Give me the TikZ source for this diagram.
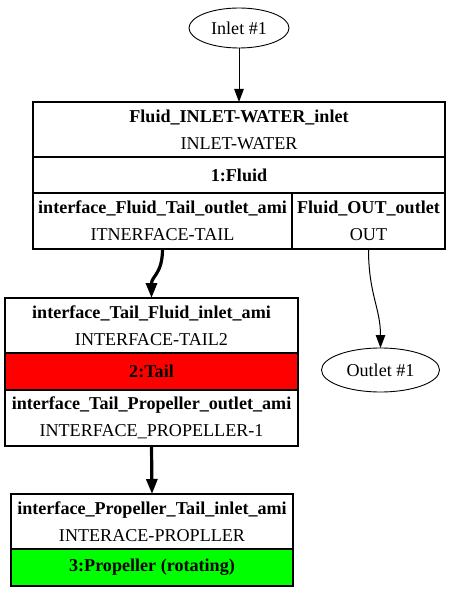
\documentclass[tikz,border=0pt]{standalone}
\usepackage{fontspec}
\setmainfont{Liberation Serif}
\usetikzlibrary{arrows.meta,shapes.geometric}
\begin{document}
\begin{tikzpicture}[x=1bp,y=-1bp,
  every node/.style={inner sep=0pt,outer sep=0pt},
  txt/.style={font=\fontsize{18.1bp}{27bp}\selectfont,align=center},
  cell/.style={draw,line width=1.3bp,txt},
  outer/.style={draw,line width=2bp},
  ell/.style={ellipse,draw,line width=0.9bp,txt},
  arr/.style={-{Triangle[length=13bp,width=9.5bp]},line width=1bp},
  thickarr/.style={-{Triangle[length=15bp,width=11bp]},line width=3.2bp}
]
\useasboundingbox (0,0) rectangle (451,591);
% Inlet
\node[ell,minimum width=100bp,minimum height=40bp] (inlet) at (239,28) {Inlet \#1};
% Box 1
\node[cell,minimum width=412bp,minimum height=55bp] (c1a) at (239,129.5) {\textbf{Fluid\_INLET-WATER\_inlet}\\INLET-WATER};
\node[cell,minimum width=412bp,minimum height=36bp] (c1b) at (239,175) {\textbf{1:Fluid}};
\node[cell,minimum width=259bp,minimum height=56bp] (c1c) at (162.5,221) {\textbf{interface\_Fluid\_Tail\_outlet\_ami}\\ITNERFACE-TAIL};
\node[cell,minimum width=153bp,minimum height=56bp] (c1d) at (368.5,221) {\textbf{Fluid\_OUT\_outlet}\\OUT};
\node[outer,minimum width=412bp,minimum height=147bp] (box1) at (239,175.5) {};
% Box 2
\node[cell,minimum width=293bp,minimum height=55bp] (c2a) at (151.5,325.5) {\textbf{interface\_Tail\_Fluid\_inlet\_ami}\\INTERFACE-TAIL2};
\node[cell,fill=red,minimum width=293bp,minimum height=37bp] (c2b) at (151.5,371.5) {\textbf{2:Tail}};
\node[cell,minimum width=293bp,minimum height=56bp] (c2c) at (151.5,418) {\textbf{interface\_Tail\_Propeller\_outlet\_ami}\\INTERFACE\_PROPELLER-1};
\node[outer,minimum width=293bp,minimum height=148bp] (box2) at (151.5,372) {};
% Outlet
\node[ell,minimum width=118bp,minimum height=44bp] (outlet) at (380.5,370) {Outlet \#1};
% Box 3
\node[cell,minimum width=282bp,minimum height=55bp] (c3a) at (152,521.5) {\textbf{interface\_Propeller\_Tail\_inlet\_ami}\\INTERACE-PROPLLER};
\node[cell,fill=green,minimum width=282bp,minimum height=37bp] (c3b) at (152,567.5) {\textbf{3:Propeller (rotating)}};
\node[outer,minimum width=282bp,minimum height=92bp] (box3) at (152,540) {};
% Edges
\draw[arr] (inlet.south) -- (c1a.north);
\draw[thickarr] (c1c.south) .. controls +(0,25) and +(0,-22) .. (c2a.north);
\draw[arr] (c1d.south) .. controls +(0,45) and +(0,-40) .. (outlet.north);
\draw[thickarr] (c2c.south) -- (c3a.north);
\end{tikzpicture}
\end{document}
